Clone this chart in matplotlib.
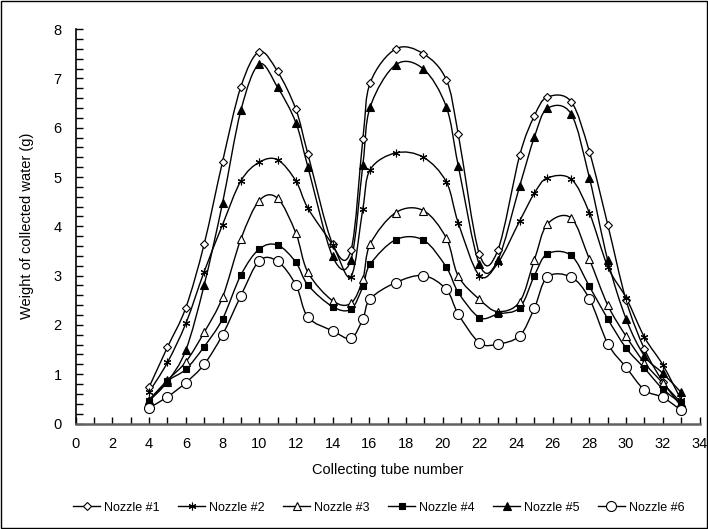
import matplotlib
matplotlib.use('Agg')
import matplotlib.pyplot as plt
from matplotlib.path import Path
from matplotlib.patches import PathPatch, Rectangle
from matplotlib.lines import Line2D
from matplotlib.ticker import MultipleLocator

plt.rcParams['font.family'] = ['Liberation Sans', 'DejaVu Sans']

tube = [4, 5, 6, 7, 8, 9, 10, 11, 12, 12.65, 14, 15, 15.65, 16.05, 17.45, 18.95,
        20.2, 20.85, 22, 23, 24.2, 25, 25.7, 27, 28, 29, 30, 31, 32, 33]

nozzle1 = [0.74, 1.55, 2.35, 3.64, 5.31, 6.83, 7.54, 7.14, 6.37, 5.47, 3.64, 3.51, 5.77, 6.91, 7.60,
           7.50, 6.97, 5.87, 3.44, 3.51, 5.44, 6.24, 6.62, 6.53, 5.51, 4.03, 2.50, 1.51, 0.85, 0.35]
nozzle2 = [0.64, 1.24, 2.03, 3.08, 4.03, 4.92, 5.30, 5.35, 4.92, 4.37, 3.62, 2.98, 4.36, 5.15, 5.49,
           5.40, 4.90, 4.07, 3.00, 3.25, 4.11, 4.67, 4.98, 4.96, 4.27, 3.18, 2.55, 1.75, 1.19, 0.48]
nozzle3 = [0.48, 0.88, 1.25, 1.85, 2.56, 3.74, 4.52, 4.57, 3.86, 3.07, 2.49, 2.44, 2.93, 3.64, 4.28,
           4.32, 3.76, 2.99, 2.52, 2.27, 2.47, 3.32, 4.04, 4.17, 3.33, 2.40, 1.77, 1.23, 0.82, 0.42]
nozzle4 = [0.46, 0.86, 1.10, 1.56, 2.12, 3.01, 3.54, 3.62, 3.27, 2.81, 2.37, 2.32, 2.78, 3.23, 3.73,
           3.72, 3.17, 2.66, 2.15, 2.22, 2.35, 3.00, 3.44, 3.41, 2.78, 2.12, 1.53, 1.12, 0.70, 0.41]
nozzle5 = [0.46, 0.85, 1.49, 2.81, 4.47, 6.35, 7.29, 6.82, 6.10, 5.21, 3.39, 3.32, 5.25, 6.42, 7.28,
           7.19, 6.42, 5.23, 3.23, 3.31, 4.82, 5.81, 6.39, 6.28, 4.98, 3.31, 2.12, 1.37, 1.02, 0.63]
nozzle6 = [0.32, 0.54, 0.83, 1.20, 1.80, 2.59, 3.30, 3.29, 2.81, 2.16, 1.88, 1.73, 2.12, 2.53, 2.86,
           3.00, 2.72, 2.22, 1.64, 1.61, 1.78, 2.34, 2.97, 2.97, 2.53, 1.62, 1.14, 0.68, 0.53, 0.27]

labels = ['Nozzle #1', 'Nozzle #2', 'Nozzle #3', 'Nozzle #4', 'Nozzle #5', 'Nozzle #6']
series = [nozzle1, nozzle2, nozzle3, nozzle4, nozzle5, nozzle6]
styles = [
    dict(marker='D', ms=4.2, mfc='white', mec='black', mew=0.8),
    dict(marker=(6, 2, 0), ms=5.5, mfc='black', mec='black', mew=0.8),
    dict(marker='^', ms=6, mfc='white', mec='black', mew=0.8),
    dict(marker='s', ms=5, mfc='black', mec='black', mew=0.8),
    dict(marker='^', ms=6, mfc='black', mec='black', mew=0.8),
    dict(marker='o', ms=7.2, mfc='white', mec='black', mew=0.8),
]


def smooth_path(xs, ys):
    n = len(xs)
    verts = [(xs[0], ys[0])]
    codes = [Path.MOVETO]
    for i in range(n - 1):
        x0, y0 = (xs[i - 1], ys[i - 1]) if i > 0 else (xs[i], ys[i])
        x1, y1 = xs[i], ys[i]
        x2, y2 = xs[i + 1], ys[i + 1]
        x3, y3 = (xs[i + 2], ys[i + 2]) if i + 2 < n else (xs[i + 1], ys[i + 1])
        c1 = (x1 + (x2 - x0) / 6.0, y1 + (y2 - y0) / 6.0)
        c2 = (x2 - (x3 - x1) / 6.0, y2 - (y3 - y1) / 6.0)
        verts += [c1, c2, (x2, y2)]
        codes += [Path.CURVE4] * 3
    return Path(verts, codes)


fig = plt.figure(figsize=(7.08, 5.29), dpi=100)
ax = fig.add_axes([0.107, 0.1994, 0.881, 0.7456])

for ys, st in zip(series, styles):
    ax.add_patch(PathPatch(smooth_path(tube, ys), facecolor='none', edgecolor='black', lw=1.0, zorder=2))
    ax.plot(tube, ys, linestyle='none', zorder=3, **st)

ax.set_xlim(0, 34)
ax.set_ylim(0, 8)
ax.xaxis.set_major_locator(MultipleLocator(2))
ax.xaxis.set_minor_locator(MultipleLocator(1))
ax.yaxis.set_major_locator(MultipleLocator(1))
ax.yaxis.set_minor_locator(MultipleLocator(0.2))
ax.tick_params(which='both', direction='in', length=5, width=1.0, labelsize=10.5, colors='black')
ax.tick_params(axis='y', pad=10)
ax.tick_params(axis='x', pad=10)
for s in ['top', 'right']:
    ax.spines[s].set_visible(False)
ax.spines['left'].set_color('black')
ax.spines['left'].set_linewidth(1.2)
ax.spines['bottom'].set_color('#606060')
ax.spines['bottom'].set_linewidth(1.8)

ax.set_xlabel('Collecting tube number', fontsize=10.5, labelpad=8)
ax.set_ylabel('Weight of collected water (g)', fontsize=10.5, labelpad=14)

handles = [Line2D([0], [0], color='black', lw=1.0, **st) for st in styles]
fig.legend(handles, labels, loc='center', bbox_to_anchor=(0.535, 0.040), ncol=6, frameon=False,
           fontsize=9, handlelength=2.2, handletextpad=0.3, columnspacing=1.45)

fig.add_artist(Rectangle((0.001, 0.001), 0.997, 0.997, transform=fig.transFigure,
                         fill=False, edgecolor='black', lw=1.0))

fig.savefig('out.png', dpi=100)
